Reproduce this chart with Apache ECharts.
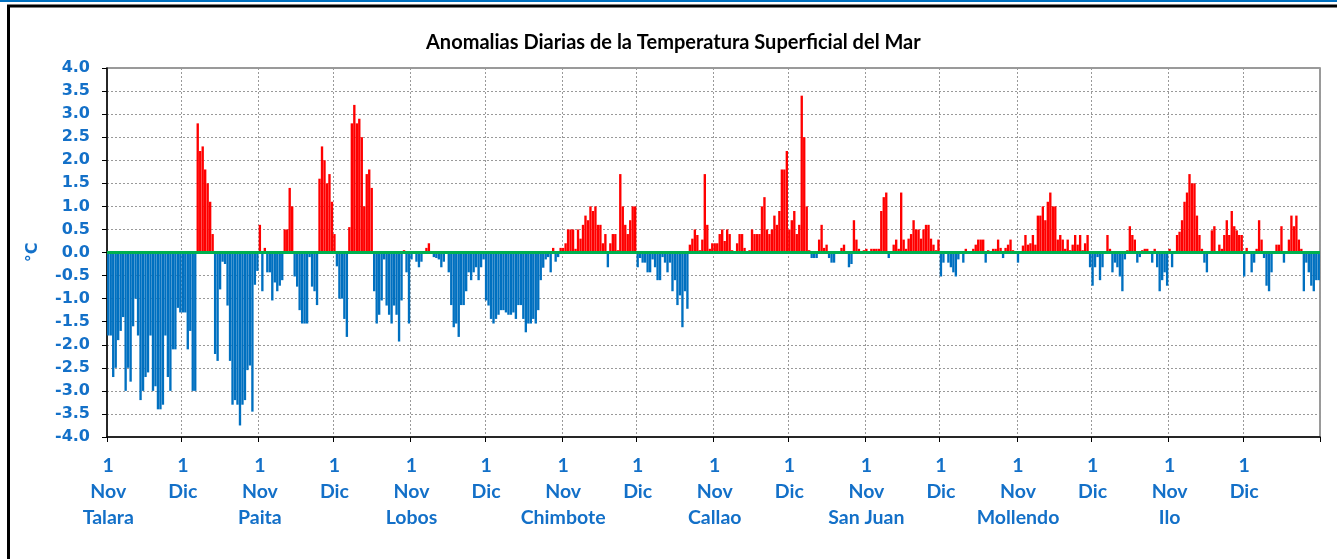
<!DOCTYPE html>
<html>
<head>
<meta charset="utf-8">
<script src="https://cdn.jsdelivr.net/npm/echarts@6/dist/echarts.min.js"></script>
<style>
html,body{margin:0;padding:0;background:#fff;}
#chart{width:1337px;height:559px;}
</style>
</head>
<body>
<div id="chart"></div>
<script>
const stations = ['Talara','Paita','Lobos','Chimbote','Callao','San Juan','Mollendo','Ilo'];
const months = ['Nov','Dic'];
const dayLabel = '1';
const daysNov = 30, daysDic = 31;
const yTicks = {min:-4, max:4, step:0.5};

const talara = [-1.8,-1.8,-2.7,-2.5,-1.9,-1.7,-1.4,-3.0,-2.5,-2.8,-1.6,-1.0,-1.8,-3.2,-3.0,-2.7,-2.6,-1.8,-3.0,-2.9,-3.4,-3.4,-3.3,-1.8,-2.7,-3.0,-2.1,-2.1,-1.2,-1.3,
  -1.3,-1.3,-2.1,-1.7,-3.0,-3.0,2.8,2.2,2.3,1.8,1.5,1.1,0.4,-2.2,-2.35,-0.8,-0.2,-0.25,-1.15,-2.35,-3.3,-3.2,-3.3,-3.75,-3.3,-3.2,-2.55,-2.45,-3.45,-0.7,-0.4];
const paita = [0.6,-0.84,0.1,-0.43,-0.43,-1.04,-0.65,-0.84,-0.72,-0.6,0.5,0.5,1.4,1.0,-0.52,-0.74,-1.25,-1.54,-1.54,-1.54,-0.1,-0.74,-0.84,-1.14,1.6,2.3,2.0,1.5,1.7,1.1,
  0.4,-0.3,-1.0,-1.0,-1.44,-1.83,0.55,2.8,3.2,2.8,2.9,2.5,1.0,1.7,1.8,1.4,-0.84,-1.54,-1.35,-1.04,-0.15,-1.15,-1.35,-1.54,-1.15,-1.35,-1.93,-1.04,0.05,-0.43,-1.54];
const lobos = [-0.15,0.02,-0.2,-0.32,-0.2,0.03,0.1,0.2,0.02,-0.1,-0.12,-0.15,-0.32,-0.2,0.03,-0.43,-1.14,-1.62,-1.54,-1.83,-1.14,-1.14,-0.84,-0.43,-0.6,-0.43,-0.32,-0.6,-0.32,-0.15,
  -1.04,-1.15,-1.44,-1.54,-1.44,-1.35,-1.25,-1.25,-1.3,-1.35,-1.35,-1.3,-1.44,-1.14,-1.14,-1.44,-1.73,-1.54,-1.54,-1.44,-1.54,-1.25,-0.6,-0.33,-0.15,-0.1,-0.43,0.1,-0.2,-0.1,0.1];
const chimbote = [0.1,0.2,0.5,0.5,0.5,0.08,0.5,0.3,0.6,0.8,0.7,1.0,0.9,1.0,0.6,0.6,0.2,0.4,-0.32,0.2,0.4,0.4,0.05,1.7,1.0,0.6,0.4,0.7,1.0,1.0,
  -0.32,-0.12,-0.22,-0.22,-0.43,-0.43,-0.15,-0.32,-0.6,-0.6,-0.1,-0.22,-0.43,-0.22,-0.84,-0.6,-1.14,-0.93,-1.62,-0.84,-1.22,0.17,0.3,0.5,0.38,0.05,0.28,1.7,0.6,0.08,0.2];
const callao = [0.2,0.2,0.4,0.5,0.25,0.5,0.4,0.05,0.02,0.2,0.4,0.4,0.1,0.02,0.05,0.5,0.4,0.4,0.4,1.0,1.2,0.5,0.4,0.5,0.8,0.6,0.9,1.8,1.8,2.2,
  0.5,0.7,0.9,0.4,0.6,3.4,2.5,1.0,0.05,-0.12,-0.12,-0.12,0.28,0.6,0.1,0.17,-0.12,-0.22,-0.22,0.02,0.03,0.1,0.17,0.03,-0.32,-0.25,0.7,0.28,0.08,0.03,0.05];
const sanJuan = [0.08,0.02,0.08,0.08,0.08,0.08,0.9,1.2,1.3,-0.12,0.02,0.17,0.28,0.08,1.3,0.28,0.08,0.3,0.4,0.7,0.5,0.5,0.3,0.5,0.6,0.6,0.3,0.17,0.05,0.28,
  -0.52,-0.22,0.02,-0.22,-0.32,-0.43,-0.52,-0.15,0.02,-0.22,0.08,0.02,0.02,0.08,0.17,0.28,0.28,0.28,-0.22,0.05,0.03,0.08,0.08,0.28,0.1,-0.12,0.1,0.17,0.28,0.05,0.02];
const mollendo = [-0.22,0.03,0.15,0.38,0.17,0.2,0.38,0.17,0.8,0.8,1.0,0.7,1.1,1.3,1.0,1.0,0.28,0.38,0.28,0.08,0.28,0.05,0.17,0.38,0.17,0.38,0.05,0.2,0.38,-0.32,
  -0.72,-0.32,-0.1,-0.6,-0.32,0.02,0.38,0.08,-0.43,-0.22,-0.32,-0.52,-0.84,-0.15,0.05,0.57,0.38,0.28,-0.22,-0.1,0.05,0.08,0.08,0.02,-0.22,0.08,-0.32,-0.84,-0.6,-0.43,-0.72];
const ilo = [0.08,-0.32,0.02,0.38,0.45,0.7,1.1,1.3,1.7,1.5,1.5,0.8,0.38,0.08,-0.22,-0.43,0.02,0.48,0.57,0.02,0.17,0.08,0.38,0.7,0.38,0.9,0.57,0.48,0.38,0.38,
  -0.52,0.1,0.02,-0.43,-0.22,0.08,0.7,0.28,-0.12,-0.72,-0.84,-0.43,0.02,0.17,0.17,0.57,-0.22,0.02,0.28,0.8,0.57,0.8,0.28,0.08,-0.84,-0.22,-0.43,-0.72,-0.84,-0.6,-0.6];

const stationSeries = [talara,paita,lobos,chimbote,callao,sanJuan,mollendo,ilo];
const perStation = daysNov + daysDic;

const categories = [];
const values = [];
stationSeries.forEach((arr, s) => {
  arr.forEach((v, d) => {
    categories.push(stations[s] + '-' + d);
    values.push(v);
  });
});

const isMonthStart = (i) => { const d = i % perStation; return d === 0 || d === daysNov; };
const blue = '#1370C8';
const labelFont = 'Lato, "Open Sans", sans-serif';

const chart = echarts.init(document.getElementById('chart'), null, {renderer:'canvas'});
chart.setOption({
  animation: false,
  backgroundColor: '#fff',
  graphic: [
    {type:'rect', shape:{x:0,y:0,width:1337,height:2}, style:{fill:'#0070C0'}, z:100},
    {type:'rect', shape:{x:8.5,y:6,width:1345,height:570}, style:{fill:'none', stroke:'#000', lineWidth:3}, z:100}
  ],
  title: {
    text: 'Anomalias Diarias de la Temperatura Superficial del Mar',
    left: 421, top: 28,
    textStyle: {fontFamily: labelFont, fontWeight:'bold', fontSize:20, color:'#000'}
  },
  grid: {left:107, right:17, top:68, bottom:122, show:true, borderColor:'#7a7a7a', borderWidth:1.5},
  xAxis: {
    type:'category',
    data: categories,
    boundaryGap: true,
    axisLine: {show:true, onZero:false, lineStyle:{color:'#000', width:1.5}},
    axisTick: {show:true, interval:(i)=>isMonthStart(i), length:5, lineStyle:{color:'#000'}},
    splitLine: {show:true, interval:(i)=>isMonthStart(i), lineStyle:{color:'#999', type:[2,2], width:1}},
    axisLabel: {
      interval:(i)=>isMonthStart(i),
      formatter: (val, i) => {
        const d = i % perStation, s = Math.floor(i / perStation);
        if (d === 0) return dayLabel + '\n' + months[0] + '\n' + stations[s];
        if (d === daysNov) return dayLabel + '\n' + months[1];
        return '';
      },
      color: blue, fontFamily: labelFont, fontWeight:'bold', fontSize:19.5, lineHeight:26, margin:16
    }
  },
  yAxis: {
    type:'value', min:yTicks.min, max:yTicks.max, interval:yTicks.step,
    name:'°C', nameLocation:'middle', nameGap:66, nameRotate:90,
    nameTextStyle:{color:blue, fontFamily:'"DejaVu Sans", sans-serif', fontWeight:'bold', fontSize:16},
    axisLine:{show:true, lineStyle:{color:'#000', width:1.5}},
    axisTick:{show:true, length:5, lineStyle:{color:'#000'}},
    splitLine:{show:true, lineStyle:{color:'#999', type:[2,2], width:1}},
    axisLabel:{formatter:(v)=>v.toFixed(1), color:blue, fontFamily:'"DejaVu Sans", sans-serif', fontWeight:'bold', fontSize:16, margin:17}
  },
  series: [{
    type:'bar',
    data: values,
    barCategoryGap:'5%',
    itemStyle:{color:(p)=> p.value >= 0 ? '#FF0000' : '#0070C0'},
    markLine:{
      silent:true, symbol:'none', animation:false,
      label:{show:false},
      lineStyle:{color:'#00B050', width:3, type:'solid'},
      data:[{yAxis:0}]
    }
  }]
});
</script>
</body>
</html>
